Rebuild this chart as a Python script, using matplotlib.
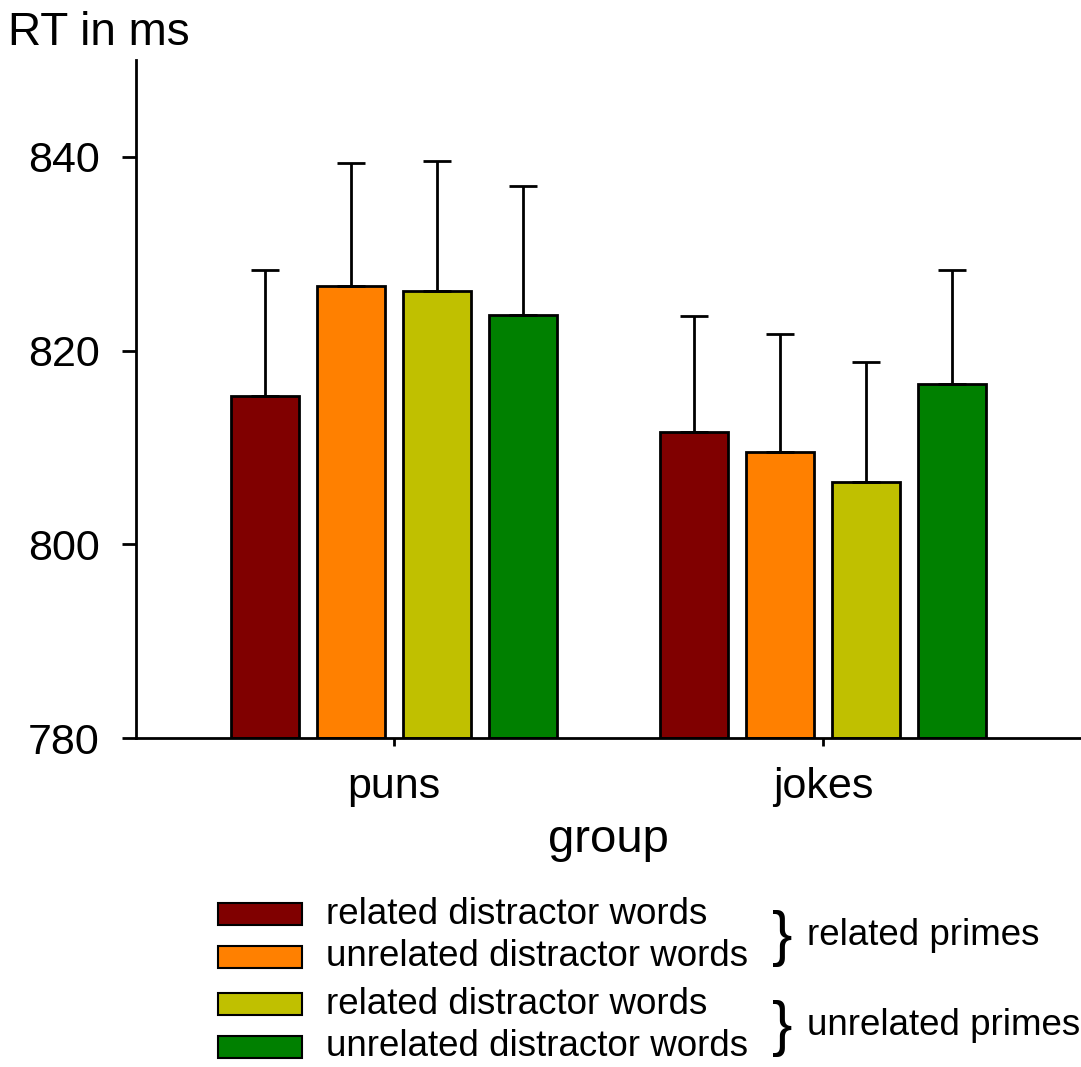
import numpy as np
import matplotlib.pyplot as plt
from matplotlib.patches import Rectangle

plt.rcParams['font.family'] = ['Liberation Sans', 'DejaVu Sans']

# ---- Data ----
groups = ['puns', 'jokes']
conditions = ['related distractor words', 'unrelated distractor words',
              'related distractor words', 'unrelated distractor words']
colors = ['#800000', '#FF8000', '#C0C000', '#008000']
means = {
    'puns':  [815.3, 826.7, 826.2, 823.7],
    'jokes': [811.6, 809.5, 806.4, 816.5],
}
errors = {
    'puns':  [13.0, 12.7, 13.4, 13.3],
    'jokes': [12.0, 12.2, 12.4, 11.8],
}
prime_labels = ['related primes', 'unrelated primes']

W, H = 1081, 1067
fig = plt.figure(figsize=(W / 100, H / 100), dpi=100)

def fx(px):
    return px / W

def fy(py):
    return 1 - py / H

# axes box in pixel coords of the reference
ax = fig.add_axes([fx(136), fy(738), fx(1081) - fx(136), fy(60) - fy(738)])

x = np.arange(len(groups))
width = 0.158
step = 0.2
for i, color in enumerate(colors):
    vals = [means[g][i] for g in groups]
    errs = [errors[g][i] for g in groups]
    pos = x + (i - 1.5) * step
    ax.bar(pos, np.array(vals) - 780, width, bottom=780, color=color,
           edgecolor='black', linewidth=2, zorder=2)
    ax.errorbar(pos, vals, yerr=[np.zeros(len(errs)), errs], fmt='none',
                ecolor='black', elinewidth=2, capsize=10, capthick=2, zorder=3)

ax.set_xlim(-0.601, 1.601)
ax.set_ylim(780, 850)
ax.set_yticks([780, 800, 820, 840])
ax.set_xticks(x)
ax.set_xticklabels(groups)
ax.spines['top'].set_visible(False)
ax.spines['right'].set_visible(False)
ax.spines['left'].set_linewidth(2)
ax.spines['bottom'].set_linewidth(2)
ax.tick_params(axis='y', direction='out', length=10, width=2, labelsize=31, pad=16)
ax.tick_params(axis='x', direction='out', length=6, width=2, labelsize=31, pad=15)
ax.set_xlabel('group', fontsize=34, labelpad=8)

fig.text(fx(8), fy(45), 'RT in ms', fontsize=33, ha='left', va='baseline')

# ---- Legend with braces ----
row_y = [914, 957, 1004, 1047]
for label, color, ry in zip(conditions, colors, row_y):
    fig.add_artist(Rectangle((fx(218), fy(ry + 11)), fx(84), fy(ry - 11) - fy(ry + 11),
                             transform=fig.transFigure, facecolor=color,
                             edgecolor='black', linewidth=1.5))
    fig.text(fx(326), fy(ry), label, fontsize=26.5, ha='left', va='center')

for k, plabel in enumerate(prime_labels):
    cy = (row_y[2 * k] + row_y[2 * k + 1]) / 2
    fig.text(fx(772), fy(cy + 3), '}', fontsize=44, ha='left', va='center')
    fig.text(fx(807), fy(cy), plabel, fontsize=26.5, ha='left', va='center')

fig.savefig('out.png', dpi=100)
